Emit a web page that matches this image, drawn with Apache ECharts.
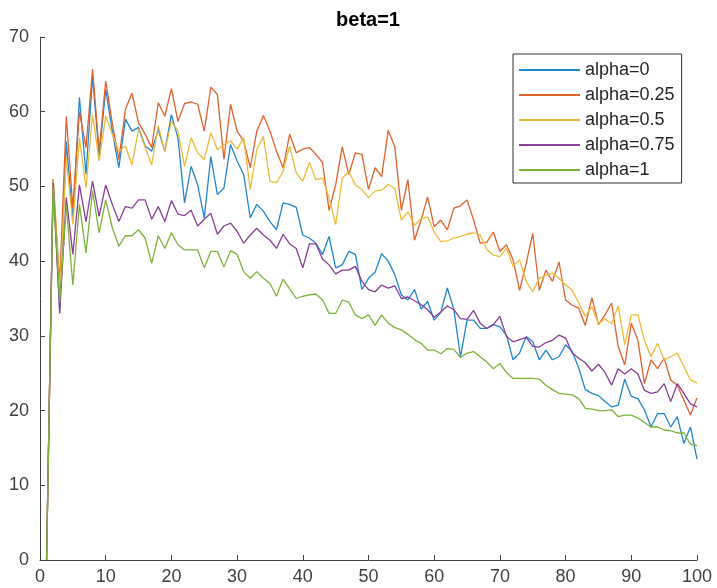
<!DOCTYPE html>
<html>
<head>
<meta charset="utf-8">
<script src="https://cdn.jsdelivr.net/npm/echarts@6/dist/echarts.min.js"></script>
<style>
html, body { margin: 0; padding: 0; background: #fff; }
#chart { width: 717px; height: 588px; }
</style>
</head>
<body>
<div id="chart"></div>
<script>
var seriesNames = ["alpha=0", "alpha=0.25", "alpha=0.5", "alpha=0.75", "alpha=1"];
var colors = ["#1f86cf", "#e0622c", "#efba38", "#8a3d99", "#7db33c"];

var alpha0 = [0, 51, 33.5, 56, 45.5, 61.9, 51.6, 64.8, 54, 63,
    57.4, 52.5, 59, 57.4, 57.9, 55.4, 54.7, 57.6, 54.7, 59.6,
    56.5, 47.8, 52.7, 50.2, 45.8, 54, 48.9, 49.8, 55.6, 53.4,
    51.6, 45.8, 47.6, 46.7, 45.3, 44.2, 47.8, 47.6, 47.2, 43.5,
    43.1, 42.4, 40.9, 43.3, 39.1, 39.5, 41.3, 40.9, 36.2, 37.7,
    38.5, 41, 40, 38.2, 35.5, 34.8, 36.2, 33.6, 34.6, 32.1,
    33.1, 36.4, 33.5, 27.2, 32.1, 32.1, 31, 31, 31.5, 31.2,
    30.1, 26.8, 27.7, 29.9, 29.2, 26.8, 28.1, 26.8, 27.2, 28.8,
    27.9, 25.7, 22.8, 22.3, 22, 21.2, 20.5, 20.7, 24.2, 21.9,
    21.6, 20.1, 17.8, 19.6, 19.6, 17.8, 19.2, 15.6, 17.8, 13.5];

var alpha025 = [0, 51, 37, 59.4, 47.1, 60, 55.2, 65.7, 54.7, 64.1,
    58.5, 53.6, 60.3, 62.5, 58.5, 57, 55.2, 61.2, 59.4, 63.1,
    58.7, 61.1, 61.3, 61, 57.4, 63.3, 62.3, 53.6, 61, 57.4,
    56.1, 52.5, 57.4, 59.5, 57.4, 54.7, 52.5, 57, 54.5, 55,
    55.2, 54.3, 53.2, 46.8, 50.2, 55.3, 51.6, 54.5, 54.3, 49.6,
    52.5, 51.3, 57.5, 55.3, 46.8, 50.9, 42.8, 45.5, 48.6, 44.6,
    45.5, 44.2, 47.1, 47.4, 48.2, 45.5, 42.4, 42.5, 43.9, 41.3,
    42.2, 40.2, 36.1, 39.7, 43.7, 36.1, 38.8, 37.3, 39.9, 34.8,
    34.1, 33.7, 31.4, 35.1, 31.5, 32.8, 34.4, 28.6, 26.1, 31.7,
    29.4, 23.6, 26.8, 25.6, 27, 24.1, 23.4, 21.4, 19.4, 21.7];

var alpha05 = [0, 51, 36, 53.8, 44.9, 56.5, 49.8, 59.6, 53.4, 59.4,
    57, 54.7, 55.4, 52.9, 57.7, 55.2, 52.9, 58.1, 54.7, 58.7,
    57.4, 52.7, 56.5, 54.5, 53.6, 57.2, 54.9, 55.6, 56.1, 55,
    56.5, 49.6, 54.9, 56.7, 50.7, 50.5, 52, 55.4, 51.8, 50.7,
    53.2, 50.9, 51.1, 48.5, 44.9, 51.1, 52, 50.2, 49.6, 48.5,
    49.4, 49.5, 50.3, 49.7, 45.5, 46.6, 44.8, 45.7, 45.9, 43.9,
    42.6, 42.7, 43.1, 43.3, 43.6, 43.8, 43.5, 41.6, 40.8, 40.6,
    41.7, 39.3, 40.2, 37.3, 35.9, 37.7, 38.1, 38.4, 37.7, 36.8,
    36.1, 34.4, 32.6, 33.9, 31.6, 32.3, 31.6, 34, 28.8, 32.8,
    32.8, 29.4, 27.2, 29, 26.8, 27.2, 27.7, 25.9, 24.1, 23.7];

var alpha075 = [0, 50.5, 33, 48.5, 40.9, 50.2, 45.3, 50.7, 46, 50.2,
    47.6, 45.3, 47.3, 47.1, 48.2, 48.2, 45.6, 47.3, 45.3, 48.1,
    46.3, 46.1, 46.8, 44.7, 45.6, 46.4, 43.6, 44.7, 45.1, 44,
    42.4, 43.5, 44.4, 43.5, 42.8, 41.7, 43.6, 42.3, 41.7, 39.1,
    42.3, 42.3, 40.3, 39.5, 38.3, 38.8, 38.8, 39.3, 37.3, 36.2,
    35.9, 36.8, 36.4, 36.7, 35, 35.2, 34.7, 34.2, 33.5, 32.5,
    33.2, 34, 33.5, 32.3, 32.2, 33.4, 31.7, 31, 31.5, 32.6,
    29.9, 29.2, 29.5, 29.8, 28.6, 28.5, 29.1, 29.4, 30.1, 29.7,
    27.7, 27, 26.4, 25.3, 26.2, 25.1, 23.4, 25.6, 24.9, 25.6,
    24.9, 22.7, 22.3, 22.5, 23.6, 21.2, 23.6, 22.3, 20.9, 20.5];

var alpha1 = [0, 50, 34.5, 47.5, 36.8, 47.6, 41.1, 49.4, 43.8, 48.2,
    44.5, 42, 43.4, 43.4, 44.2, 43.1, 39.7, 43.4, 41.7, 43.8,
    42.2, 41.5, 41.5, 41.5, 39.1, 41.3, 41.3, 39.2, 41.4, 40.9,
    38.6, 37.7, 38.6, 37.7, 37, 35.3, 37.6, 36.3, 35, 35.3,
    35.5, 35.6, 34.8, 33, 33, 34.8, 34.5, 32.8, 32.3, 32.8,
    31.4, 32.8, 31.7, 31.1, 30.8, 30.2, 29.5, 29, 28.1, 28.1,
    27.6, 28.3, 28.2, 27.1, 27.7, 27.9, 27.2, 26.5, 25.6, 26.3,
    25.1, 24.3, 24.3, 24.3, 24.3, 24.2, 23.4, 22.8, 22.3, 22.2,
    22.1, 21.6, 20.3, 20.2, 20, 20, 20.1, 19.2, 19.4, 19.4,
    19, 18.4, 17.8, 17.8, 17.4, 17.3, 17, 17, 15.5, 15.3];

var allValues = [alpha0, alpha025, alpha05, alpha075, alpha1];

var chart = echarts.init(document.getElementById("chart"));

var axisColor = "#404040";
var series = [];
for (var s = 0; s < allValues.length; s++) {
    var pts = [];
    for (var i = 0; i < allValues[s].length; i++) {
        pts.push([i + 1, allValues[s][i]]);
    }
    series.push({
        name: seriesNames[s],
        type: "line",
        data: pts,
        showSymbol: false,
        symbol: "none",
        lineStyle: { width: 1.3, color: colors[s] },
        itemStyle: { color: colors[s] }
    });
}

var option = {
    animation: false,
    backgroundColor: "#fff",
    title: {
        text: "beta=1",
        left: 363,
        textAlign: "center",
        top: 5,
        textStyle: { fontFamily: "Liberation Sans", fontSize: 20, fontWeight: "bold", color: "#000" }
    },
    legend: {
        orient: "vertical",
        left: 513,
        top: 54,
        data: seriesNames,
        icon: "rect",
        itemWidth: 61,
        itemHeight: 2,
        itemGap: 7,
        padding: [7, 7, 4, 6],
        borderColor: "#333",
        borderWidth: 1,
        backgroundColor: "#fff",
        textStyle: { fontFamily: "Liberation Sans", fontSize: 18, lineHeight: 18, color: "#262626" }
    },
    grid: { left: 40, right: 20, top: 37, bottom: 28 },
    xAxis: {
        type: "value",
        min: 0, max: 100, interval: 10,
        axisLine: { lineStyle: { color: axisColor } },
        axisTick: { inside: true, length: 5, lineStyle: { color: axisColor } },
        axisLabel: { fontFamily: "Liberation Sans", fontSize: 18, color: axisColor, margin: 8 },
        splitLine: { show: false }
    },
    yAxis: {
        type: "value",
        min: 0, max: 70, interval: 10,
        axisLine: { show: true, lineStyle: { color: axisColor } },
        axisTick: { show: true, inside: true, length: 5, lineStyle: { color: axisColor } },
        axisLabel: { fontFamily: "Liberation Sans", fontSize: 18, color: axisColor, margin: 11 },
        splitLine: { show: false }
    },
    series: series
};

chart.setOption(option);
</script>
</body>
</html>
